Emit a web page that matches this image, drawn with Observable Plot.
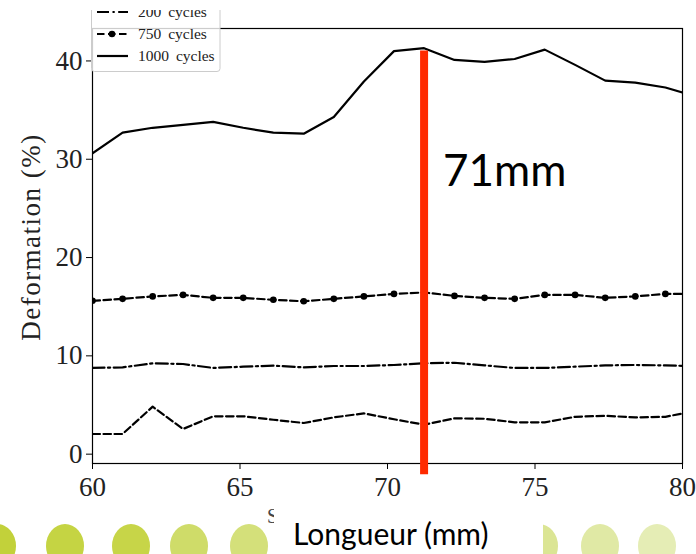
<!DOCTYPE html>
<html><head><meta charset="utf-8">
<script src="https://cdn.jsdelivr.net/npm/d3@7"></script>
<script src="https://cdn.jsdelivr.net/npm/@observablehq/plot@0.6"></script>
<style>
body{margin:0;background:#fff;}
#wrap{position:relative;width:696px;height:554px;overflow:hidden;background:#fff;}
#chart{position:absolute;left:0;top:0;}
#ov{position:absolute;left:0;top:0;pointer-events:none;}
</style></head><body>
<div id="wrap"><div id="chart"></div><svg id="ov" width="696" height="554"></svg></div>
<script>
// ---- data ----
const positionMm = [60.00, 61.02, 62.04, 63.07, 64.09, 65.11, 66.13, 67.16, 68.18, 69.20, 70.22, 71.24, 72.27, 73.29, 74.31, 75.33, 76.36, 77.38, 78.40, 79.42, 80.44];
const cycles100  = [2.05, 2.05, 4.83, 2.56, 3.85, 3.85, 3.50, 3.17, 3.74, 4.15, 3.55, 3.00, 3.64, 3.60, 3.24, 3.24, 3.80, 3.90, 3.74, 3.80, 4.40];
const cycles200  = [8.77, 8.83, 9.24, 9.17, 8.77, 8.90, 9.00, 8.83, 8.97, 8.97, 9.07, 9.24, 9.30, 9.03, 8.77, 8.77, 8.90, 9.03, 9.07, 9.03, 8.95];
const cycles750  = [15.6, 15.8, 16.05, 16.2, 15.9, 15.9, 15.7, 15.55, 15.8, 16.05, 16.3, 16.45, 16.1, 15.9, 15.8, 16.2, 16.2, 15.9, 16.05, 16.3, 16.3];
const cycles1000 = [30.6, 32.7, 33.2, 33.5, 33.8, 33.2, 32.7, 32.6, 34.3, 37.9, 41.0, 41.3, 40.1, 39.9, 40.2, 41.15, 39.6, 38.0, 37.8, 37.3, 36.4];
const seriesNames = ["100 cycles", "200 cycles", "750 cycles", "1000 cycles"];
const xTicks = [60, 65, 70, 75, 80];
const yTicks = [0, 10, 20, 30, 40];
const markerMm = [71.24];
const markerText = "71mm";
const xLabel = "Longueur (mm)";
const yLabel = "Deformation (%)";

const toRows = (vals, name) => vals.map((v, i) => ({x: positionMm[i], y: v, series: name}));
const r100 = toRows(cycles100, seriesNames[0]);
const r200 = toRows(cycles200, seriesNames[1]);
const r750 = toRows(cycles750, seriesNames[2]);
const r1000 = toRows(cycles1000, seriesNames[3]);

const serif = "'Liberation Serif', 'DejaVu Serif', serif";
const chart = Plot.plot({
  width: 696, height: 554,
  marginLeft: 92, marginRight: 14, marginTop: 28, marginBottom: 91,
  style: {fontFamily: serif, fontSize: "27px", color: "#222", background: "transparent", overflow: "visible"},
  x: {domain: [60, 80], label: null},
  y: {domain: [-0.95, 43.3], label: null},
  marks: [
    Plot.line(r100, {x: "x", y: "y", stroke: "#000", strokeWidth: 2.2, strokeDasharray: "7.5,3.5", clip: true}),
    Plot.line(r200, {x: "x", y: "y", stroke: "#000", strokeWidth: 2.2, strokeDasharray: "12,3.5,2.2,3.5", clip: true}),
    Plot.line(r750, {x: "x", y: "y", stroke: "#000", strokeWidth: 2.2, strokeDasharray: "7.5,3.5", clip: true}),
    Plot.dot(r750, {x: "x", y: "y", r: 3.3, fill: "#000", stroke: "none", clip: true}),
    Plot.line(r1000, {x: "x", y: "y", stroke: "#000", strokeWidth: 2.2, clip: true}),
    Plot.frame({stroke: "#000", strokeWidth: 1.2}),
    Plot.axisX({ticks: xTicks, tickSize: 6, tickPadding: 7, fontSize: 27, label: null, stroke: "#000"}),
    Plot.axisY({ticks: yTicks, tickSize: 6, tickPadding: 4, fontSize: 27, label: null, stroke: "#000"}),
    Plot.ruleX(markerMm, {x: d => d, y1: () => -2.1, y2: () => 41.0, stroke: "#ff2a00", strokeWidth: 8})
  ]
});
document.getElementById("chart").appendChild(chart);

// ---- overlay: legend, labels, slide decoration ----
const ov = d3.select("#ov");
// y label
ov.append("text").attr("transform", "translate(40,237) rotate(-90)")
  .attr("text-anchor", "middle").attr("font-family", serif).attr("font-size", 27)
  .attr("letter-spacing", 1.5).attr("fill", "#222").text(yLabel);

// legend
const lg = ov.append("g");
lg.append("rect").attr("x", 91.5).attr("y", -12).attr("width", 128.5).attr("height", 83.5)
  .attr("rx", 3).attr("fill", "#fff").attr("fill-opacity", 0.8).attr("stroke", "#ccc");
const entries = [
  {name: seriesNames[1], y: 12, dash: "12,3.5,2.2,3.5", dot: false},
  {name: seriesNames[2], y: 34, dash: "7.5,3.5", dot: true},
  {name: seriesNames[3], y: 56, dash: null, dot: false}
];
entries.forEach(e => {
  const l = lg.append("line").attr("x1", 97).attr("x2", 128).attr("y1", e.y).attr("y2", e.y)
    .attr("stroke", "#000").attr("stroke-width", 2.2);
  if (e.dash) l.attr("stroke-dasharray", e.dash);
  if (e.dot) lg.append("circle").attr("cx", 112).attr("cy", e.y).attr("r", 3.3).attr("fill", "#000");
  lg.append("text").attr("x", 138).attr("y", e.y + 5).attr("font-family", serif)
    .attr("font-size", 15.5).attr("word-spacing", 3).attr("fill", "#222").text(e.name);
});
ov.append("rect").attr("x", 0).attr("y", 0).attr("width", 696).attr("height", 10).attr("fill", "#fff");

// decorative circles of the slide
const circles = [
  {cx: -3, c: "#c2d13a"}, {cx: 65, c: "#c5d443"}, {cx: 131, c: "#c7d548"},
  {cx: 189, c: "#cfdc69"}, {cx: 249, c: "#d4e07a"}, {cx: 309, c: "#d8e387"},
  {cx: 539, c: "#dbe594"}, {cx: 600, c: "#e0e9a5"}, {cx: 657, c: "#e5edb5"}
];
circles.forEach(d => ov.append("ellipse").attr("cx", d.cx).attr("cy", 546).attr("rx", 19).attr("ry", 22).attr("fill", d.c));
ov.append("text").attr("x", 267).attr("y", 523).attr("font-family", serif)
  .attr("font-size", 20).attr("fill", "#444").text("S");
ov.append("rect").attr("x", 274).attr("y", 500).attr("width", 269).attr("height", 54).attr("fill", "#fff");
ov.append("text").attr("x", 293).attr("y", 545).attr("font-family", "Lato, 'Open Sans', sans-serif")
  .attr("font-size", 30).attr("fill", "#000").text(xLabel);
ov.append("text").attr("x", 443).attr("y", 186).attr("font-family", "Lato, 'Open Sans', sans-serif")
  .attr("font-size", 44).attr("fill", "#000").text(markerText);
</script>
</body></html>
